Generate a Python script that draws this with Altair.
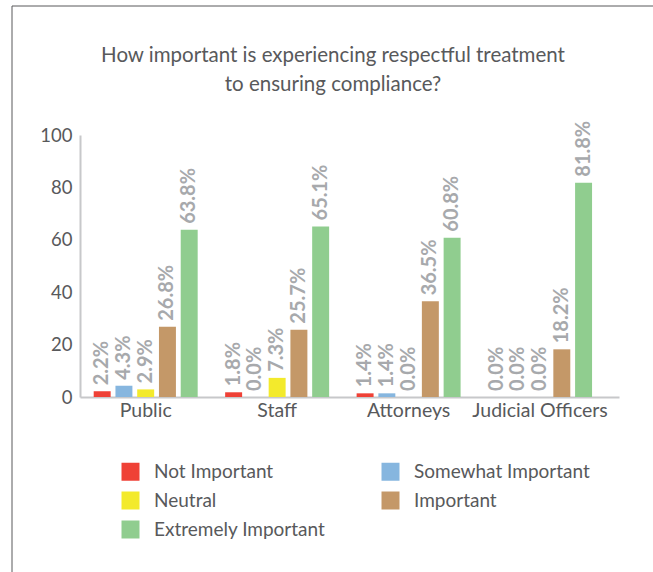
import altair as alt
import pandas as pd

# Survey groups and response categories
groups = ["Public", "Staff", "Attorneys", "Judicial Officers"]
responses = ["Not Important", "Somewhat Important", "Neutral", "Important", "Extremely Important"]
colors = ["#ef4136", "#86b6df", "#f3ea2c", "#c49868", "#90cd8f"]

# Percent of respondents per group, in the order of `responses`
public = [2.2, 4.3, 2.9, 26.8, 63.8]
staff = [1.8, 0.0, 7.3, 25.7, 65.1]
attorneys = [1.4, 1.4, 0.0, 36.5, 60.8]
judicial = [0.0, 0.0, 0.0, 18.2, 81.8]

title_lines = ["How important is experiencing respectful treatment",
               "to ensuring compliance?"]

rows = []
for g, vals in zip(groups, [public, staff, attorneys, judicial]):
    for r, v in zip(responses, vals):
        rows.append({"group": g, "response": r, "pct": v, "label": f"{v:.1f}%"})
df = pd.DataFrame(rows)

FONT = "Lato"
TEXT = "#58595b"

x_enc = alt.X("group:N", sort=groups, title=None,
              scale=alt.Scale(paddingInner=0.209, paddingOuter=0.1546,
                              align=0.337),
              axis=alt.Axis(labelAngle=0, ticks=False, labelPadding=4,
                            labelFontSize=19.5))
xo_enc = alt.XOffset("response:N", sort=responses,
                     scale=alt.Scale(paddingInner=0.22, paddingOuter=0))

base = alt.Chart(df)

bars = base.mark_bar().encode(
    x=x_enc,
    xOffset=xo_enc,
    y=alt.Y("pct:Q", title=None,
            scale=alt.Scale(domain=[0, 100], nice=False),
            axis=alt.Axis(values=[0, 20, 40, 60, 80, 100], ticks=False,
                          grid=False, labelPadding=8, labelFontSize=18.5)),
    color=alt.Color("response:N", sort=responses,
                    scale=alt.Scale(domain=responses, range=colors),
                    legend=alt.Legend(title=None, orient="none",
                                      direction="horizontal",
                                      legendX=41, legendY=327,
                                      columns=2, columnPadding=55,
                                      rowPadding=9, symbolType="square",
                                      symbolSize=324, symbolStrokeWidth=0,
                                      symbolOpacity=1, labelOffset=14,
                                      labelFontSize=19, labelFont=FONT,
                                      labelColor=TEXT, labelLimit=0,
                                      padding=0)),
)

labels = base.mark_text(angle=270, align="left", baseline="middle", dx=6,
                        font=FONT, fontSize=20, fontWeight="bold",
                        color="#a7a9ac").encode(
    x=x_enc,
    xOffset=xo_enc,
    y=alt.Y("pct:Q"),
    text="label:N",
)

# Two-line heading centred over the figure
heading = alt.Chart(alt.Data(values=[{"t": title_lines}])).mark_text(
    font=FONT, fontSize=20.5, color=TEXT, align="center",
    baseline="alphabetic", lineHeight=29).encode(
    x=alt.value(253), y=alt.value(-73), text="t:N")

# Thin frame along the top and left edges of the figure
frame_top = alt.Chart(alt.Data(values=[{}])).mark_rule(
    color="#58595b", strokeWidth=1).encode(
    x=alt.value(-68), x2=alt.value(573), y=alt.value(-129))
frame_left = alt.Chart(alt.Data(values=[{}])).mark_rule(
    color="#58595b", strokeWidth=1).encode(
    x=alt.value(-68), y=alt.value(-129), y2=alt.value(437))

chart = alt.layer(bars, labels, heading, frame_top, frame_left).properties(
    width=539,
    height=262,
    autosize=alt.AutoSizeParams(type="none"),
    padding={"left": 80, "top": 135, "right": 34, "bottom": 175},
).configure_view(stroke=None).configure_axis(
    domainColor="#c7c8ca", domainWidth=2,
    labelFont=FONT, labelColor=TEXT,
)

chart.save("out.html", embed_options={"renderer": "svg", "actions": False})
